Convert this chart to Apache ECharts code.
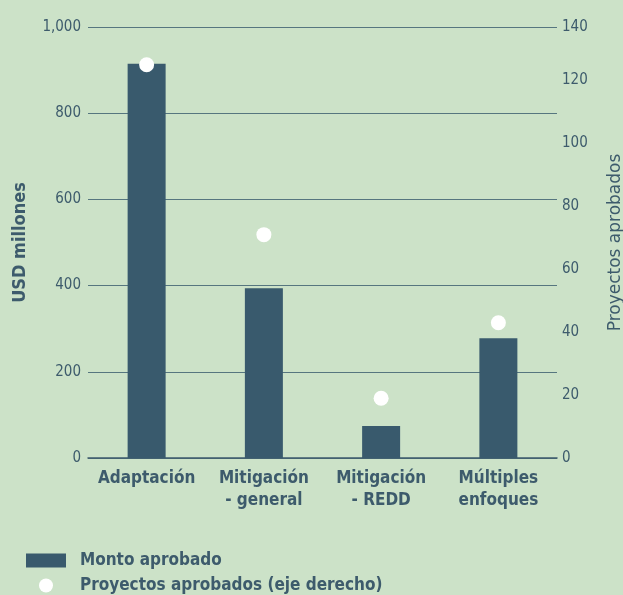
<!DOCTYPE html>
<html><head><meta charset="utf-8">
<script src="https://cdn.jsdelivr.net/npm/echarts@6/dist/echarts.min.js"></script>
<style>html,body{margin:0;padding:0;background:#cce2c8;}#c{width:623px;height:595px;}</style>
</head><body><div id="c"></div>
<script>
const categories = ['Adaptación', 'Mitigación\n- general', 'Mitigación\n- REDD', 'Múltiples\nenfoques'];
const montoAprobado = [915, 394, 74, 278];
const proyectosAprobados = [125, 71, 19, 43];
const leftTicks = [0, 200, 400, 600, 800, 1000];
const rightTicks = [0, 20, 40, 60, 80, 100, 120, 140];

const txt = '#3d5b6c';
const cond = 'DejaVu Sans Condensed, DejaVu Sans, sans-serif';
const chart = echarts.init(document.getElementById('c'));
chart.setOption({
  backgroundColor: '#cce2c8',
  animation: false,
  grid: { left: 88, right: 66, top: 27, bottom: 137, outerBoundsMode: 'none', containLabel: false },
  legend: {
    orient: 'vertical', left: 26, top: 552, height: 60, padding: 0, itemWidth: 40, itemHeight: 14, itemGap: 8,
    textStyle: { color: txt, fontSize: 17, fontWeight: 'bold', fontFamily: cond, padding: [0,0,0,9] },
    data: [
      { name: 'Monto aprobado', icon: 'rect' },
      { name: 'Proyectos aprobados (eje derecho)', icon: 'circle' }
    ]
  },
  xAxis: {
    type: 'category', data: categories,
    axisLine: { lineStyle: { color: '#3d5b6c', width: 1.5 } },
    axisTick: { show: false },
    axisLabel: { interval: 0, color: txt, fontSize: 17, fontWeight: 'bold', fontFamily: cond, lineHeight: 22, margin: 10 }
  },
  yAxis: [
    {
      type: 'value', min: leftTicks[0], max: leftTicks[leftTicks.length - 1], interval: 200,
      name: 'USD millones', nameLocation: 'middle', nameGap: 59, nameRotate: 90,
      nameTextStyle: { color: txt, fontSize: 18, fontWeight: 'bold', fontFamily: cond },
      axisLine: { show: false }, axisTick: { show: false },
      axisLabel: { color: txt, fontSize: 15, fontFamily: cond, margin: 7,
        formatter: v => v.toLocaleString('en-US') },
      splitLine: { lineStyle: { color: '#56767f', width: 1 } }
    },
    {
      type: 'value', min: rightTicks[0], max: 137, interval: 20,
      name: 'Proyectos aprobados', nameLocation: 'middle', nameGap: 50, nameRotate: 90,
      nameTextStyle: { color: txt, fontSize: 17, fontFamily: 'DejaVu Sans, sans-serif' },
      axisLine: { show: false }, axisTick: { show: false }, splitLine: { show: false },
      axisLabel: { color: txt, fontSize: 15, fontFamily: cond, margin: 5, showMaxLabel: true,
        formatter: v => (v > rightTicks[rightTicks.length - 2] ? String(rightTicks[rightTicks.length - 1]) : String(v)) }
    }
  ],
  series: [
    { name: 'Monto aprobado', type: 'bar', data: montoAprobado, barWidth: 38, yAxisIndex: 0,
      itemStyle: { color: '#395a6d' } },
    { name: 'Proyectos aprobados (eje derecho)', type: 'scatter', data: proyectosAprobados, yAxisIndex: 1,
      symbolSize: 15, itemStyle: { color: '#ffffff', opacity: 1 } }
  ]
});
</script></body></html>
